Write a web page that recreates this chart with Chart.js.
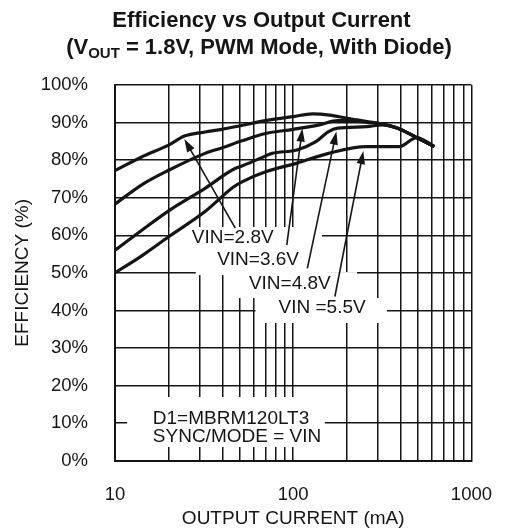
<!DOCTYPE html>
<html><head><meta charset="utf-8">
<script src="https://cdn.jsdelivr.net/npm/chart.js@4.4.1/dist/chart.umd.min.js"></script>
<style>html,body{margin:0;padding:0;background:#fff;}</style>
</head><body>
<canvas id="c" width="515" height="531"></canvas>
<script>
const FONT = '"Liberation Sans", Arial, Helvetica, sans-serif';
const INK = '#151515';

// ---- Data: output current (mA) and efficiency (%) per input voltage ----
const cur28 = [10, 14.2, 20, 24.5, 32, 40, 52, 70, 100, 128, 160, 202, 228, 300, 386, 493, 620];
const eff28 = [77.2, 80.9, 84.0, 86.4, 87.5, 88.2, 89.3, 90.5, 91.6, 92.3, 92.0, 91.1, 90.7, 89.8, 88.5, 86.0, 83.6];
const cur36 = [10, 14.2, 20, 32, 40, 52, 70, 100, 140, 178, 202, 265, 300, 386, 493, 620];
const eff36 = [68.3, 73.5, 77.3, 81.8, 83.3, 85.2, 87.1, 88.2, 89.4, 90.5, 90.5, 90.0, 89.8, 88.5, 86.0, 83.6];
const cur48 = [10, 14.2, 20, 32, 46, 52, 66, 76, 105, 134, 158, 178, 258, 316, 386, 493, 620];
const eff48 = [56.0, 61.4, 66.5, 72.5, 77.5, 78.5, 80.6, 81.8, 82.7, 84.9, 87.6, 88.5, 88.9, 89.4, 88.5, 86.0, 83.6];
const cur55 = [10, 14.2, 20, 32, 46, 52, 70, 105, 158, 258, 395, 493, 620];
const eff55 = [50.0, 54.6, 59.6, 66.3, 72.8, 74.3, 76.9, 79.2, 81.8, 83.6, 83.6, 86.0, 83.6];

// ---- Axis ticks ----
const xGridValues = [10,20,30,40,50,60,70,80,90,100,200,300,400,500,600,700,800,900,1000];
const xLabelValues = [10, 100, 1000];
const yTickStep = 10;

// ---- Text ----
const titleLine1 = 'Efficiency vs Output Current';
const titleLine2a = '(V';
const titleLine2sub = 'OUT';
const titleLine2b = ' = 1.8V, PWM Mode, With Diode)';
const xTitle = 'OUTPUT CURRENT (mA)';
const yTitle = 'EFFICIENCY (%)';

// ---- Callouts (in data units: mA, %) ----
const noteText = ['VIN=2.8V', 'VIN=3.6V', 'VIN=4.8V', 'VIN =5.5V'];
const noteCur = [45.8, 63.5, 95.7, 145.3];
const noteEff = [59.4, 53.4, 47.2, 40.6];
const arrowFromCur = [47.3, 92, 120, 171.3];
const arrowFromEff = [61.9, 57.4, 51.2, 43.7];
const arrowToCur = [24.5, 112.6, 174.7, 247.5];
const arrowToEff = [85.6, 88.4, 87.6, 82.4];
const condText = ['D1=MBRM120LT3', 'SYNC/MODE = VIN'];
const condCur = [16.3, 16.3];
const condEff = [11.1, 6.4];
// white label backgrounds: [curFrom, curTo, effTop, effBottom]
const maskBoxes = [[20.3,145,62.2,56.9],[28.4,153.8,56.9,49.4],[46.3,228,50.2,43.3],[61.4,336,43.3,36.65],[11.7,150.4,16.95,3.65]];

function pts(xs, ys){ return xs.map((x,i)=>({x:x, y:ys[i]})); }
function ds(label, xs, ys){
  return {label, data: pts(xs, ys), showLine: true, borderColor: INK, borderWidth: 3.2,
    pointRadius: 0, cubicInterpolationMode: 'monotone', fill: false};
}

const annot = {
  id: 'annot',
  beforeDatasetsDraw(chart){
    const {ctx, scales:{x, y}, chartArea:a} = chart;
    ctx.save();
    ctx.beginPath(); ctx.rect(a.left+1, a.top+1, a.right-a.left-2, a.bottom-a.top-2); ctx.clip();
    ctx.fillStyle = '#fff';
    maskBoxes.forEach(b=>{
      const x0 = x.getPixelForValue(b[0]), x1 = x.getPixelForValue(b[1]);
      const y0 = y.getPixelForValue(b[2]), y1 = y.getPixelForValue(b[3]);
      ctx.fillRect(x0, y0, x1-x0, y1-y0);
    });
    ctx.restore();
  },
  afterDatasetsDraw(chart){
    const {ctx, scales:{x, y}} = chart;
    ctx.save();
    ctx.fillStyle = INK; ctx.strokeStyle = INK;
    ctx.font = '19px ' + FONT;
    ctx.textAlign = 'center'; ctx.textBaseline = 'middle';
    noteText.forEach((t,i)=>{
      ctx.fillText(t, x.getPixelForValue(noteCur[i]), y.getPixelForValue(noteEff[i]));
      const fx = x.getPixelForValue(arrowFromCur[i]), fy = y.getPixelForValue(arrowFromEff[i]);
      const tx = x.getPixelForValue(arrowToCur[i]), ty = y.getPixelForValue(arrowToEff[i]);
      const ang = Math.atan2(ty-fy, tx-fx);
      const hl = 13, hw = 4.2;
      const bx = tx - hl*Math.cos(ang), by = ty - hl*Math.sin(ang);
      ctx.lineWidth = 1.6;
      ctx.beginPath(); ctx.moveTo(fx, fy); ctx.lineTo(bx+2*Math.cos(ang), by+2*Math.sin(ang)); ctx.stroke();
      ctx.beginPath();
      ctx.moveTo(tx, ty);
      ctx.lineTo(bx + hw*Math.sin(ang), by - hw*Math.cos(ang));
      ctx.lineTo(bx - hw*Math.sin(ang), by + hw*Math.cos(ang));
      ctx.closePath(); ctx.fill();
    });
    ctx.textAlign = 'left';
    condText.forEach((t,i)=>{
      ctx.fillText(t, x.getPixelForValue(condCur[i]), y.getPixelForValue(condEff[i]));
    });
    ctx.restore();
  },
  afterDraw(chart){
    const {ctx} = chart;
    ctx.save();
    ctx.fillStyle = INK;
    ctx.textBaseline = 'alphabetic';
    ctx.textAlign = 'center';
    ctx.font = 'bold 22px ' + FONT;
    ctx.fillText(titleLine1, 261.5, 26.5);
    const w1 = ctx.measureText(titleLine2a).width;
    const w3 = ctx.measureText(titleLine2b).width;
    ctx.font = 'bold 15px ' + FONT;
    const w2 = ctx.measureText(titleLine2sub).width;
    let sx = 259 - (w1+w2+w3)/2;
    ctx.textAlign = 'left';
    ctx.font = 'bold 22px ' + FONT;
    ctx.fillText(titleLine2a, sx, 53.5);
    ctx.font = 'bold 15px ' + FONT;
    ctx.fillText(titleLine2sub, sx + w1, 58);
    ctx.font = 'bold 22px ' + FONT;
    ctx.fillText(titleLine2b, sx + w1 + w2, 53.5);
    ctx.restore();
  }
};

new Chart(document.getElementById('c'), {
  type: 'scatter',
  data: { datasets: [ds('VIN=2.8V', cur28, eff28), ds('VIN=3.6V', cur36, eff36), ds('VIN=4.8V', cur48, eff48), ds('VIN=5.5V', cur55, eff55)] },
  options: {
    responsive: false, animation: false, devicePixelRatio: 1,
    layout: { padding: { top: 85, right: 24.3, left: 0, bottom: 0 } },
    plugins: { legend: {display: false}, title: {display: false}, tooltip: {enabled: false} },
    scales: {
      x: {
        type: 'logarithmic', min: 10, max: 1000,
        afterBuildTicks: s => { s.ticks = xGridValues.map(v=>({value: v})); },
        afterFit: s => { s.height = 70.3; },
        ticks: { autoSkip: false, maxRotation: 0, padding: 23, color: INK,
          font: {family: FONT, size: 18.5},
          callback: v => xLabelValues.includes(v) ? String(v) : '' },
        grid: { color: INK, lineWidth: 1.5, drawTicks: false },
        border: { display: true, color: INK, width: 2 },
        title: { display: true, text: xTitle, color: INK, font: {family: FONT, size: 19}, padding: {top: 0, bottom: 1} }
      },
      y: {
        min: 0, max: 100,
        afterFit: s => { s.width = 115; },
        ticks: { stepSize: yTickStep, padding: 27, color: INK, font: {family: FONT, size: 18.5},
          callback: v => v + '%' },
        grid: { color: INK, lineWidth: 1.5, drawTicks: false },
        border: { display: true, color: INK, width: 2 },
        title: { display: true, text: yTitle, color: INK, font: {family: FONT, size: 19}, padding: {top: 11, bottom: 0} }
      }
    }
  },
  plugins: [annot]
});
</script>
</body></html>
